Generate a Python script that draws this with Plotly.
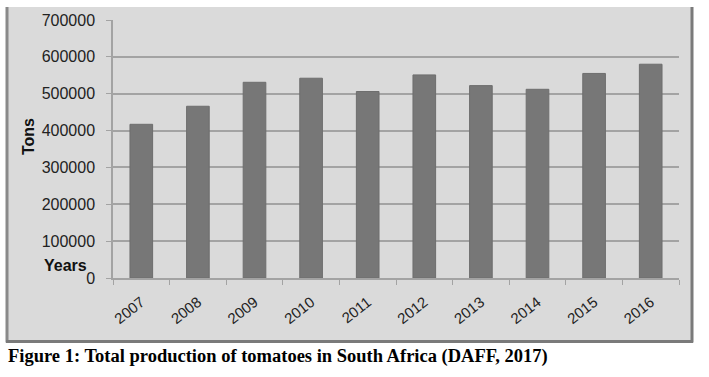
import plotly.graph_objects as go

years = ["2007", "2008", "2009", "2010", "2011", "2012", "2013", "2014", "2015", "2016"]
tons = [417000, 466000, 531000, 542000, 506000, 551000, 522000, 512000, 555000, 580000]
y_ticks = [0, 100000, 200000, 300000, 400000, 500000, 600000, 700000]

W, H = 709, 377
L, R, T, B = 113, 30, 18, 99
pw, ph = W - L - R, H - T - B

def px_x(x):
    return (x - L) / pw

def px_y(y):
    return (H - B - y) / ph

fig = go.Figure()
fig.add_trace(go.Bar(x=years, y=tons, marker=dict(color="#777777", line=dict(color="#6e6e6e", width=1)),
                     width=0.4))

shapes = [
    dict(type="rect", xref="paper", yref="paper", x0=px_x(6), x1=px_x(693), y0=px_y(343), y1=px_y(5),
         fillcolor="#dadada", line=dict(width=0), layer="below"),
    dict(type="line", xref="paper", yref="paper", x0=px_x(7), x1=px_x(7), y0=px_y(343), y1=px_y(5),
         line=dict(color="#8a8a8a", width=3), layer="below"),
    dict(type="line", xref="paper", yref="paper", x0=px_x(692), x1=px_x(692), y0=px_y(343), y1=px_y(5),
         line=dict(color="#7a7a7a", width=3), layer="below"),
    dict(type="line", xref="paper", yref="paper", x0=px_x(6), x1=px_x(693), y0=px_y(342), y1=px_y(342),
         line=dict(color="#7a7a7a", width=3), layer="below"),
]

fig.update_layout(
    width=W, height=H,
    margin=dict(l=L, r=R, t=T, b=B),
    paper_bgcolor="white",
    plot_bgcolor="rgba(0,0,0,0)",
    showlegend=False,
    bargap=0.6,
    shapes=shapes,
    font=dict(family="Liberation Sans, Arial", color="#222222"),
    annotations=[
        dict(text="<b>Tons</b>", xref="paper", yref="paper", x=px_x(28), y=px_y(136), textangle=-90,
             xanchor="center", yanchor="middle",
             showarrow=False, font=dict(size=16, color="#111111")),
        dict(text="<b>Years</b>", xref="paper", yref="paper", x=px_x(65), y=px_y(265),
             xanchor="center", yanchor="middle",
             showarrow=False, font=dict(size=16, color="#111111")),
        dict(text="<b>Figure 1: Total production of tomatoes in South Africa (DAFF, 2017)</b>",
             xref="paper", yref="paper", x=px_x(6), y=px_y(357), xanchor="left", yanchor="middle",
             showarrow=False, font=dict(size=18.5, color="#000000", family="Liberation Serif, Times New Roman")),
    ],
)

fig.update_yaxes(range=[0, 700000], tickvals=y_ticks, ticktext=[str(v) for v in y_ticks],
                 showgrid=True, gridcolor="#a3a3a3", gridwidth=1.5,
                 showline=True, linecolor="#a3a3a3", linewidth=1.5,
                 ticks="outside", ticklen=5, tickcolor="#a3a3a3", ticklabelstandoff=8,
                 tickfont=dict(size=16, color="#222222"), zeroline=False)
fig.update_xaxes(showline=True, linecolor="#a3a3a3", linewidth=1.5,
                 ticks="outside", tickson="boundaries", ticklen=5, tickcolor="#a3a3a3",
                 ticklabelstandoff=8,
                 tickangle=-38, tickfont=dict(size=15, color="#222222"))

fig.write_html("out.html", config={"displayModeBar": False},
               post_script="document.body.style.margin='0';document.body.style.padding='0';")
